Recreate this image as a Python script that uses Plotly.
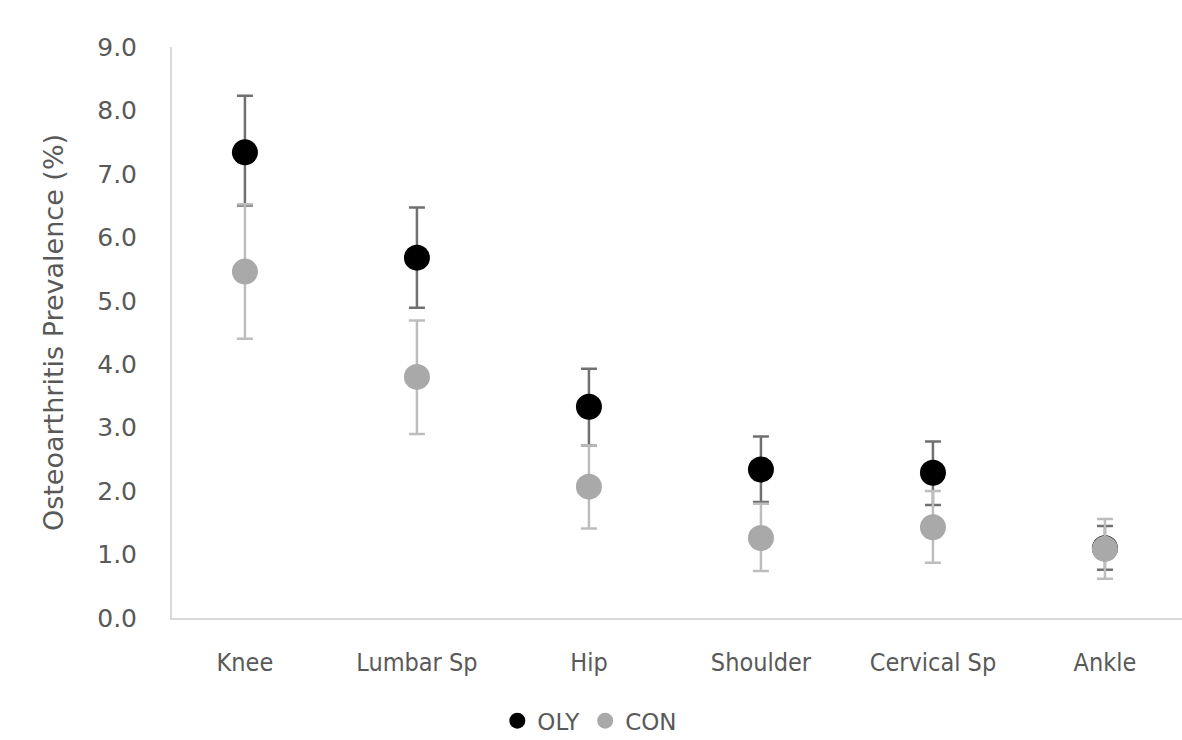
import plotly.graph_objects as go

categories = ["Knee", "Lumbar Sp", "Hip", "Shoulder", "Cervical Sp", "Ankle"]
oly_values = [7.34, 5.68, 3.33, 2.34, 2.29, 1.10]
oly_err_plus = [0.89, 0.79, 0.60, 0.52, 0.49, 0.35]
oly_err_minus = [0.84, 0.79, 0.61, 0.51, 0.51, 0.34]
con_values = [5.46, 3.80, 2.07, 1.26, 1.43, 1.09]
con_err_plus = [1.06, 0.89, 0.65, 0.54, 0.57, 0.47]
con_err_minus = [1.06, 0.90, 0.66, 0.52, 0.56, 0.47]
y_ticks = [0, 1, 2, 3, 4, 5, 6, 7, 8, 9]

FONT = "DejaVu Sans, Verdana, sans-serif"
NARROW = "DejaVu Sans Condensed, DejaVu Sans, sans-serif"
TXT = "#595959"

fig = go.Figure()
fig.add_trace(go.Scatter(
    x=categories, y=oly_values, mode="markers", name="OLY",
    marker=dict(color="#000000", size=26),
    error_y=dict(type="data", array=oly_err_plus, arrayminus=oly_err_minus,
                 color="#707070", thickness=2.5, width=8),
))
fig.add_trace(go.Scatter(
    x=categories, y=con_values, mode="markers", name="CON",
    marker=dict(color="#a9a9a9", size=26),
    error_y=dict(type="data", array=con_err_plus, arrayminus=con_err_minus,
                 color="#bdbdbd", thickness=2.5, width=8),
))

fig.update_layout(
    width=1182, height=740,
    margin=dict(l=172, r=0, t=47, b=122),
    paper_bgcolor="white", plot_bgcolor="white",
    font=dict(family=FONT, size=22, color=TXT),
    showlegend=True,
    legend=dict(orientation="h", xref="container", yref="container",
                x=0.499, xanchor="center", y=0.026, yanchor="middle",
                font=dict(family=FONT, size=23, color=TXT), itemsizing="trace",
                itemwidth=30, tracegroupgap=0),
    xaxis=dict(showline=True, linecolor="#d9d9d9", linewidth=2, showgrid=False,
               ticks="", tickfont=dict(family=NARROW, size=25, color=TXT),
               range=[-0.424, 5.448], zeroline=False, ticklabelstandoff=21),
    yaxis=dict(range=[0, 9], tickvals=y_ticks, tickformat=".1f",
               showline=True, linecolor="#d9d9d9", linewidth=2, showgrid=False,
               ticks="", tickfont=dict(family=FONT, size=25, color=TXT),
               zeroline=False, ticklabelstandoff=28,
               title=dict(text="Osteoarthritis Prevalence (%)", standoff=26,
                          font=dict(family=FONT, size=27, color=TXT))),
)

fig.write_html("out.html", config={"displayModeBar": False},
               post_script="document.body.style.margin='0px';")
